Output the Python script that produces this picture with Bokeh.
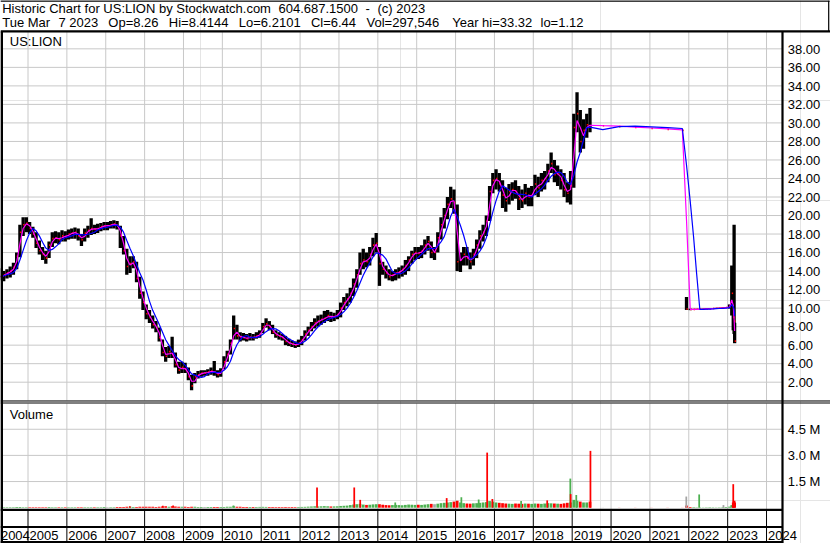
import numpy as np
import pandas as pd
from bokeh.plotting import figure
from bokeh.models import Range1d
from bokeh.core.properties import value
from bokeh.embed import file_html
from bokeh.resources import INLINE

# ------------------------------------------------------------------ data
# Monthly bars (mid-month), Apr 2004 .. Jun 2019
monthly_start, monthly_end = "2004-04", "2019-06"
m_high = [
    14.3, 14.0, 14.2, 14.5, 14.9, 16.0, 19.0, 19.8, 19.8,                      # 2004
    19.3, 18.8, 18.2, 17.3, 16.6, 16.2, 17.2, 18.2, 18.3, 18.2, 18.4, 18.3,    # 2005
    18.5, 18.6, 18.7, 18.6, 18.0, 18.6, 18.9, 19.7, 19.0, 19.1, 19.2, 19.3,    # 2006
    19.3, 19.4, 19.5, 19.4, 18.9, 17.8, 16.4, 15.6, 15.6, 15.0, 13.4, 11.8,    # 2007
    10.4, 9.8, 9.2, 8.6, 7.9, 6.6, 5.8, 5.9, 6.9, 5.2, 4.2, 4.2,               # 2008
    4.1, 3.6, 2.8, 3.0, 3.2, 3.3, 3.3, 3.4, 3.6, 4.3, 3.3, 3.5,                # 2009
    4.8, 5.4, 6.6, 9.2, 8.2, 7.4, 7.3, 7.2, 7.3, 7.2, 7.4, 7.6,                # 2010
    8.4, 8.9, 8.6, 8.2, 7.6, 7.4, 7.2, 7.0, 6.7, 6.5, 6.4, 6.6,                # 2011
    7.0, 7.6, 8.0, 8.5, 8.9, 9.2, 9.3, 9.7, 9.8, 9.6, 9.5, 9.8,                # 2012
    10.6, 11.2, 11.6, 12.2, 13.2, 14.2, 16.0, 16.4, 16.0, 16.6, 17.6, 18.1,    # 2013
    16.6, 15.0, 14.6, 14.2, 14.0, 14.2, 14.4, 14.6, 15.2, 15.6, 16.2, 16.6,    # 2014
    16.6, 16.8, 17.4, 17.8, 17.2, 16.6, 18.2, 19.8, 20.8, 22.0, 23.1, 22.8,    # 2015
    21.2, 16.0, 16.6, 16.6, 16.0, 16.4, 17.4, 18.4, 19.0, 20.0, 23.2, 24.6,    # 2016
    25.0, 24.6, 23.8, 23.0, 23.4, 23.6, 23.8, 23.2, 22.8, 23.4, 23.0, 23.2,    # 2017
    24.4, 24.2, 24.6, 24.8, 25.6, 26.8, 26.0, 25.4, 25.0, 24.6, 23.6, 24.8,    # 2018
    31.0, 33.32, 31.4, 30.4, 31.0, 31.6,                                       # 2019
]
m_low = [
    13.0, 12.9, 13.2, 13.3, 13.6, 14.2, 15.5, 17.8, 18.2,
    18.0, 17.6, 16.5, 15.8, 15.2, 14.8, 15.4, 16.6, 17.0, 16.9, 17.2, 17.2,
    17.4, 17.5, 17.5, 17.3, 16.7, 17.2, 17.6, 17.9, 18.0, 18.1, 18.3, 18.4,
    18.4, 18.6, 18.6, 18.5, 16.5, 15.8, 13.6, 13.8, 14.3, 12.8, 11.0, 9.8,
    8.8, 8.4, 7.8, 7.4, 6.4, 4.8, 4.2, 4.6, 4.6, 3.6, 2.9, 3.0,
    3.0, 2.2, 1.12, 1.9, 2.4, 2.6, 2.7, 2.7, 2.8, 2.7, 2.5, 2.6,
    3.4, 4.2, 5.0, 6.6, 6.6, 6.4, 6.5, 6.4, 6.5, 6.5, 6.7, 6.8,
    7.3, 7.9, 7.6, 7.2, 6.8, 6.6, 6.5, 6.0, 5.9, 5.8, 5.7, 5.8,
    6.0, 6.5, 7.0, 7.5, 7.8, 8.0, 8.2, 8.4, 8.6, 8.5, 8.6, 8.8,
    9.0, 9.8, 10.2, 10.6, 11.3, 12.2, 13.6, 14.2, 14.4, 14.6, 15.6, 16.0,
    12.4, 13.6, 13.2, 13.0, 12.9, 13.0, 13.2, 13.4, 13.6, 14.0, 14.8, 15.2,
    15.3, 15.4, 15.8, 16.2, 15.4, 15.2, 16.0, 17.4, 18.6, 19.6, 20.8, 20.2,
    14.0, 13.9, 14.6, 14.6, 14.2, 14.6, 15.4, 16.4, 17.2, 17.8, 19.4, 22.4,
    22.8, 22.6, 20.8, 20.4, 21.2, 21.6, 21.8, 20.6, 20.8, 21.2, 21.0, 21.0,
    22.2, 22.0, 22.6, 22.8, 23.6, 24.6, 23.6, 23.2, 22.8, 22.0, 21.4, 21.2,
    23.0, 29.0, 26.8, 27.2, 28.4, 29.0,
]
m_close = [
    13.4, 13.6, 13.8, 14.0, 14.4, 15.6, 18.2, 19.0, 19.2,
    18.6, 18.0, 17.0, 16.2, 15.8, 15.4, 16.8, 17.5, 17.6, 17.4, 17.8, 17.7,
    18.0, 18.1, 18.2, 17.8, 17.4, 18.1, 18.4, 18.6, 18.5, 18.6, 18.8, 18.9,
    18.9, 19.0, 19.1, 18.9, 17.8, 16.2, 14.5, 14.8, 15.0, 13.2, 11.6, 10.6,
    9.4, 9.0, 8.2, 7.9, 6.8, 5.2, 4.8, 5.3, 5.0, 3.9, 3.3, 3.6,
    3.4, 2.6, 1.6, 2.6, 2.8, 3.0, 3.0, 3.1, 3.2, 3.1, 2.8, 3.1,
    4.2, 5.0, 6.2, 7.8, 7.0, 6.9, 6.8, 6.7, 6.9, 6.8, 7.0, 7.2,
    8.0, 8.3, 8.0, 7.4, 7.1, 7.0, 6.8, 6.4, 6.2, 6.1, 6.0, 6.2,
    6.6, 7.2, 7.6, 8.0, 8.4, 8.6, 8.8, 8.9, 9.2, 9.0, 9.1, 9.3,
    10.0, 10.6, 11.0, 11.6, 12.6, 13.6, 14.8, 15.2, 15.0, 15.8, 16.8, 17.0,
    14.8, 14.2, 13.8, 13.4, 13.6, 13.8, 13.9, 14.2, 14.6, 15.2, 15.8, 16.0,
    15.9, 16.2, 16.8, 17.2, 16.0, 16.0, 17.6, 19.0, 20.0, 21.2, 21.8, 21.4,
    15.0, 15.2, 15.8, 15.4, 15.0, 15.8, 16.8, 17.8, 18.2, 19.4, 22.6, 23.8,
    24.0, 23.4, 22.2, 21.6, 22.6, 22.8, 22.6, 21.8, 21.6, 22.4, 22.0, 22.2,
    23.4, 23.0, 23.8, 24.0, 24.8, 25.6, 24.4, 24.6, 23.8, 22.8, 22.4, 23.2,
    29.5, 31.0, 28.0, 29.2, 29.8, 29.7,
]
m_volume_k = [  # typical daily volume, thousand shares
    25, 30, 20, 25, 30, 35, 40, 30, 25,
    30, 25, 20, 30, 25, 30, 35, 25, 20, 25, 30, 25,
    20, 25, 30, 25, 20, 25, 30, 25, 20, 25, 30, 35,
    30, 25, 30, 35, 40, 45, 60, 50, 40, 45, 50, 60,
    60, 50, 55, 45, 60, 70, 80, 60, 90, 70, 60, 50,
    50, 45, 60, 50, 45, 40, 45, 40, 35, 40, 35, 40,
    45, 50, 60, 90, 60, 50, 45, 40, 40, 45, 40, 45,
    50, 45, 40, 40, 35, 40, 35, 40, 35, 40, 35, 40,
    45, 50, 60, 70, 80, 70, 80, 90, 80, 70, 75, 80,
    100, 110, 120, 150, 180, 200, 220, 180, 160, 170, 190, 200,
    200, 170, 150, 140, 150, 160, 150, 140, 160, 180, 170, 160,
    170, 160, 180, 200, 220, 200, 230, 260, 280, 300, 320, 350,
    400, 300, 260, 240, 230, 250, 260, 280, 300, 320, 380, 350,
    300, 280, 260, 240, 230, 220, 240, 230, 220, 240, 230, 220,
    240, 230, 220, 240, 260, 250, 240, 230, 220, 250, 280, 300,
    450, 400, 350, 300, 300, 350,
]

# Sparse prints after mid-2019 and the 2021-2023 listing (exact dates)
late_dates = ["2019-10-15", "2020-03-16", "2020-08-14", "2021-01-15", "2021-06-15", "2021-11-01",
              "2021-12-10",
              "2022-01-14", "2022-02-15", "2022-03-15", "2022-04-14", "2022-05-16", "2022-06-15",
              "2022-07-15", "2022-08-15", "2022-09-15", "2022-10-14", "2022-11-15", "2022-12-15",
              "2023-01-18", "2023-02-08", "2023-02-22", "2023-03-02", "2023-03-07"]
late_high = [29.7, 29.6, 29.5, 29.4, 29.3, 29.2,
             11.2,
             9.95, 9.92, 9.93, 9.94, 9.95, 9.97, 9.99, 10.01, 10.03, 10.05, 10.08, 10.12,
             10.40, 14.60, 11.20, 19.00, 8.4144]
late_low = [29.7, 29.6, 29.5, 29.4, 29.3, 29.2,
            9.80,
            9.78, 9.81, 9.82, 9.83, 9.85, 9.87, 9.89, 9.91, 9.93, 9.95, 9.98, 10.00,
            9.95, 9.20, 7.60, 7.20, 6.2101]
late_close = [29.7, 29.6, 29.5, 29.4, 29.3, 29.2,
              9.90,
              9.85, 9.86, 9.87, 9.88, 9.90, 9.92, 9.94, 9.96, 9.98, 10.00, 10.03, 10.06,
              10.15, 11.60, 9.00, 8.60, 6.44]
late_volume_k = [5, 5, 5, 5, 5, 5,
                 120,
                 40, 30, 20, 20, 15, 20, 25, 20, 15, 20, 30, 40,
                 60, 150, 300, 400, 297.546]

# Single high-volume sessions: date, thousand shares, day direction (u/d/n)
spike_dates = ["2007-08-15", "2008-06-20", "2008-09-25", "2010-04-15", "2012-06-08", "2013-05-24",
               "2013-07-19", "2014-06-13", "2015-10-09", "2016-02-24", "2016-08-05", "2016-10-24",
               "2016-12-12", "2017-09-08", "2018-05-11", "2018-12-14", "2018-12-17", "2019-02-08",
               "2019-06-21", "2021-12-08", "2022-04-08", "2022-11-22", "2023-02-22"]
spike_volume_k = [90, 110, 120, 130, 1160, 1160,
                  450, 300, 550, 600, 470, 3160,
                  500, 380, 420, 1670, 780, 730,
                  3260, 640, 760, 150, 1350]
spike_dir = ["d", "d", "d", "u", "d", "d",
             "d", "u", "d", "u", "u", "d",
             "d", "u", "d", "u", "d", "u",
             "d", "n", "u", "n", "d"]

price_ticks = [2, 4, 6, 8, 10, 12, 14, 16, 18, 20, 22, 24, 26, 28, 30, 32, 34, 36, 38]
price_tick_labels = ["2.00", "4.00", "6.00", "8.00", "10.00", "12.00", "14.00", "16.00", "18.00",
                     "20.00", "22.00", "24.00", "26.00", "28.00", "30.00", "32.00", "34.00",
                     "36.00", "38.00"]
volume_ticks = [1.5e6, 3.0e6, 4.5e6]
volume_tick_labels = ["1.5 M", "3.0 M", "4.5 M"]
year_labels = ["2004", "2005", "2006", "2007", "2008", "2009", "2010", "2011", "2012", "2013",
               "2014", "2015", "2016", "2017", "2018", "2019", "2020", "2021", "2022", "2023", "2024"]

header_1 = ["Historic Chart for US:LION by Stockwatch.com", "604.687.1500", "-", "(c) 2023"]
header_2 = ["Tue Mar", "7 2023", "Op=8.26", "Hi=8.4144", "Lo=6.2101", "Cl=6.44",
            "Vol=297,546", "Year hi=33.32", "lo=1.12"]
symbol = "US:LION"


# --------------------------------------------------------- preparation
def date_to_year(s):
    d = pd.Timestamp(s)
    n = 366 if d.is_leap_year else 365
    return d.year + (d.dayofyear - 0.5) / n


months = pd.period_range(monthly_start, monthly_end, freq="M")
t_all = np.array([m.year + (m.month - 0.5) / 12.0 for m in months] +
                 [date_to_year(s) for s in late_dates])
high = np.array(m_high + late_high)
low = np.array(m_low + late_low)
close = np.array(m_close + late_close)
vol = np.array(m_volume_k + late_volume_k) * 1000.0

ma_fast = pd.Series(close).rolling(2, min_periods=1).mean().to_numpy()
ma_slow = pd.Series(close).rolling(5, min_periods=1).mean().to_numpy()

UP, DOWN, FLAT = "#4cb050", "#ff0000", "#a4a4a4"
chg = np.diff(close, prepend=close[0])
vol_color = [UP if c > 0 else (DOWN if c < 0 else FLAT) for c in chg]
vol_color[0] = UP

t_spike = np.array([date_to_year(s) for s in spike_dates])
v_spike = np.array(spike_volume_k) * 1000.0
c_spike = [{"u": UP, "d": DOWN, "n": FLAT}[d] for d in spike_dir]

years = np.array([int(y) for y in year_labels])

# ------------------------------------------------------------- layout
REF_W, REF_H = 830, 543           # layout units (pixels)
W, H = 830, 543                   # canvas size
X2005, PX_YEAR = 27.5, 38.87      # time scale
Y_ZERO_P, PX_UNIT = 400.22, 9.26  # price scale
Y_ZERO_V, PX_VOL = 507.2, 26.15 / 1.5e6  # volume scale

PL, PR = 2.5, 782.0
P_TOP, P_BOT = 31.0, 400.0
V_TOP, V_BOT = 403.0, 508.5

FONT = value("Liberation Sans")
FS = value("13px")
GRID = "#c8c8c8"
TEXT_DY = -4.5   # text box correction, screen px

p = figure(width=W, height=H, output_backend="svg", toolbar_location=None, title=None,
           x_range=Range1d(0, REF_W), y_range=Range1d(REF_H, 0),
           x_axis_location=None, y_axis_location=None, min_border=0,
           outline_line_color=None, background_fill_color="white",
           border_fill_color="white")
p.extra_x_ranges = {"time": Range1d(2005 - X2005 / PX_YEAR, 2005 + (REF_W - X2005) / PX_YEAR)}
p.extra_y_ranges = {
    "price": Range1d(-(REF_H - Y_ZERO_P) / PX_UNIT, Y_ZERO_P / PX_UNIT),
    "vol": Range1d(-(REF_H - Y_ZERO_V) / PX_VOL, Y_ZERO_V / PX_VOL),
}

# grid lines
p.segment(x0=PL, x1=PR, y0=price_ticks, y1=price_ticks, y_range_name="price",
          line_color=GRID, line_width=1)
p.segment(x0=PL, x1=PR, y0=volume_ticks, y1=volume_ticks, y_range_name="vol",
          line_color=GRID, line_width=1)
p.segment(x0=years[1:], x1=years[1:], y0=P_TOP, y1=P_BOT, x_range_name="time",
          line_color=GRID, line_width=1)
p.segment(x0=years[1:], x1=years[1:], y0=V_TOP, y1=V_BOT, x_range_name="time",
          line_color=GRID, line_width=1)

# volume
p.vbar(x=t_all, width=0.07, bottom=0, top=vol, fill_color=vol_color, line_color=None,
       x_range_name="time", y_range_name="vol")
p.vbar(x=t_spike, width=0.045, bottom=0, top=v_spike, fill_color=c_spike, line_color=None,
       x_range_name="time", y_range_name="vol")

# price bars, closes, moving averages
p.vbar(x=t_all, width=0.085, bottom=low, top=high, fill_color="black", line_color=None,
       x_range_name="time", y_range_name="price")
p.segment(x0=t_all, x1=t_all + 0.035, y0=close, y1=close, line_color="#ff0000", line_width=1.6,
          x_range_name="time", y_range_name="price")
p.line(t_all, ma_fast, line_color="#ff00ff", line_width=1.2,
       x_range_name="time", y_range_name="price")
p.line(t_all, ma_slow, line_color="#0000ff", line_width=1.2,
       x_range_name="time", y_range_name="price")

# frame lines
p.segment(x0=years[1:], x1=years[1:], y0=509, y1=542, x_range_name="time",
          line_color="black", line_width=1)
p.segment(x0=[0, 0, 0, 0], x1=[828.5, REF_W, REF_W, REF_W], y0=[0.5, 400.5, 402.5, 0.5],
          y1=[0.5, 400.5, 402.5, 0.5], line_color="black", line_width=1)
p.segment(x0=[828.2], x1=[828.2], y0=[0], y1=[31], line_color="black", line_width=1.2)
p.segment(x0=[0, 0, 0, 0], x1=[REF_W, PR, PR, PR], y0=[30.8, 509.3, 526.5, 541.6],
          y1=[30.8, 509.3, 526.5, 541.6], line_color="black", line_width=2.2)
p.segment(x0=[1.2, PR], x1=[1.2, PR], y0=[31, 31], y1=[REF_H, REF_H],
          line_color="black", line_width=[2.6, 2.2])


# texts
def put_text(x, y, s, y_offset=0.0, **kw):
    p.text(x=x, y=y, text=s, text_font=FONT, text_font_size=FS, text_color="black",
           text_baseline="alphabetic", y_offset=y_offset + TEXT_DY, **kw)


put_text([1.7, 278, 365, 377], [12.3] * 4, header_1)
put_text([1.7, 58, 107.8, 168.3, 238.3, 310.4, 366, 451.7, 540], [26.7] * 9, header_2)
put_text([9.3], [45.7], [symbol])
put_text([9.3], [418.3], ["Volume"])
put_text([787.3] * len(price_ticks), price_ticks, price_tick_labels, y_range_name="price",
         y_offset=4.8)
put_text([787.3] * len(volume_ticks), volume_ticks, volume_tick_labels, y_range_name="vol",
         y_offset=4.6)
put_text(years[1:], [539.3] * (len(years) - 1), year_labels[1:], x_range_name="time",
         x_offset=1.5)
# first year cell starts left of the picture: its label sits at the left edge
put_text([0.4], [539.3], [year_labels[0]], text_align="left")

open("out.html", "w").write(file_html(p, INLINE))
